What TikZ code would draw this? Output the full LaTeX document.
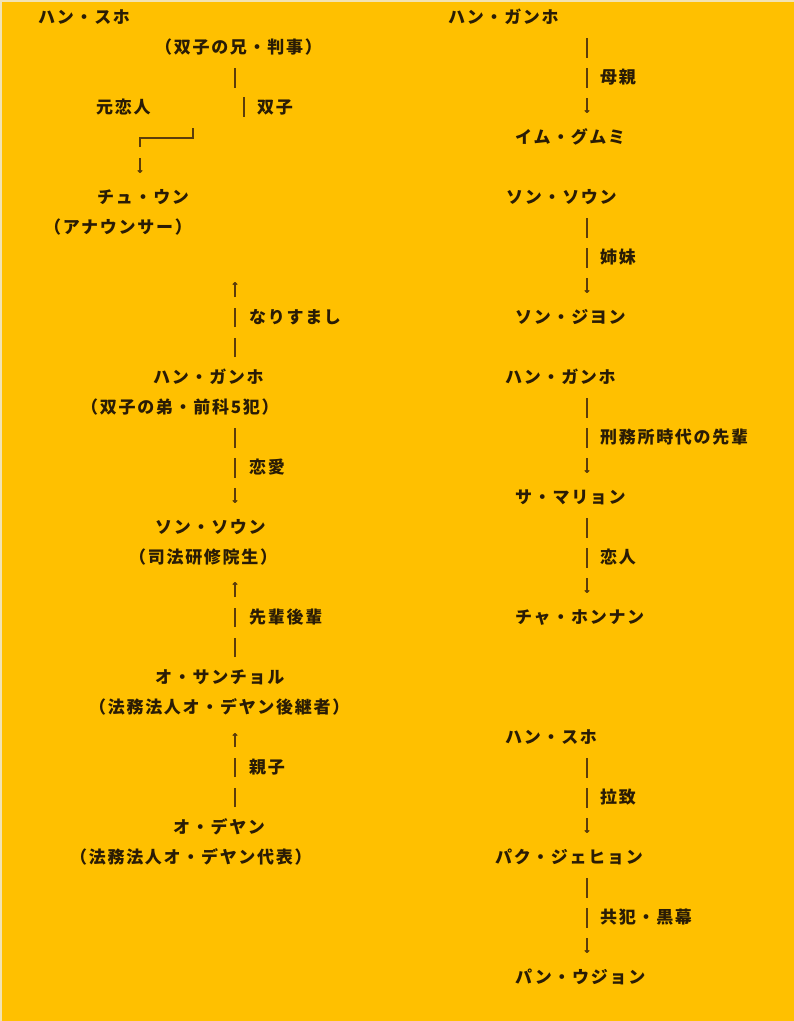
\documentclass[tikz,border=0pt]{standalone}
\usepackage{fontspec}
\setmainfont{Noto Sans CJK JP}[LetterSpace=10]
\usepackage{xcolor}
\usepackage{tikz}
\usetikzlibrary{arrows.meta}
\usetikzlibrary{calc}
\definecolor{bg}{HTML}{FFC000}
\definecolor{edge}{HTML}{F2E3B3}
\definecolor{ink}{HTML}{2A1C05}
\definecolor{stem}{HTML}{5C3D0A}

\begin{document}
\begin{tikzpicture}[x=1pt,y=-1pt,
  txt/.style={anchor=west,inner sep=0pt,text height=14pt,text depth=1pt,text=ink,font=\bfseries\fontsize{17}{17}\selectfont},
  plain/.style={draw=stem,line width=1.3pt},
  bar/.style={plain,dash pattern=on 19.5pt off 10.5pt},
  down/.style={bar,-{To[length=3pt,width=5pt]},shorten <=21pt,shorten >=24pt},
  up/.style={bar,-{To[length=3pt,width=5pt]},shorten <=20pt}]% y runs downwards, 1pt = 1px
% page
\fill[bg] (0,0) rectangle (794,1021);
\fill[edge] (0,0) rectangle (794,2);
\fill[edge] (0,0) rectangle (2,1021);
\useasboundingbox (0,0) rectangle (794,1021);
\coordinate (lb) at (235,0);
\coordinate (rb) at (587,0);

% left column
\node[txt] (hs) at (38,17) {ハン・スホ};
\node[txt] (hsr) at (155,47) {（双子の兄・判事）};
\node[txt] (ex) at (96,107) {元恋人};
\node[txt] (ltwin) at (257,107) {双子};
\node[txt] (ju) at (97,197) {チュ・ウン};
\node[txt] (jur) at (44,227) {（アナウンサー）};
\node[txt] (lpose) at (249,317) {なりすまし};
\node[txt] (hk) at (153,377) {ハン・ガンホ};
\node[txt] (hkr) at (81,407) {（双子の弟・前科5犯）};
\node[txt] (llove) at (249,467) {恋愛};
\node[txt] (ss) at (155,527) {ソン・ソウン};
\node[txt] (ssr) at (129,557) {（司法研修院生）};
\node[txt] (lsen) at (249,617) {先輩後輩};
\node[txt] (os) at (155,677) {オ・サンチョル};
\node[txt] (osr) at (89,707) {（法務法人オ・デヤン後継者）};
\node[txt] (lpar) at (249,767) {親子};
\node[txt] (od) at (173,827) {オ・デヤン};
\node[txt] (odr) at (70,857) {（法務法人オ・デヤン代表）};

% right column
\node[txt] (hk2) at (448,17) {ハン・ガンホ};
\node[txt] (rmom) at (600,77) {母親};
\node[txt] (ig) at (515,137) {イム・グムミ};
\node[txt] (ss2) at (506,197) {ソン・ソウン};
\node[txt] (rsis) at (600,257) {姉妹};
\node[txt] (sj) at (515,317) {ソン・ジヨン};
\node[txt] (hk3) at (505,377) {ハン・ガンホ};
\node[txt] (rjail) at (600,437) {刑務所時代の先輩};
\node[txt] (sm) at (515,497) {サ・マリョン};
\node[txt] (rlove) at (600,557) {恋人};
\node[txt] (ch) at (515,617) {チャ・ホンナン};
\node[txt] (hs2) at (505,737) {ハン・スホ};
\node[txt] (rkid) at (600,797) {拉致};
\node[txt] (pj) at (495,857) {パク・ジェヒョン};
\node[txt] (rboss) at (600,917) {共犯・黒幕};
\node[txt] (pu) at (515,977) {パン・ウジョン};

% twins -> ex lover, broken line
\coordinate (tw) at (244,97);
\coordinate (elb) at (140,138);
\draw[bar] ($(hsr -| lb)+(0,21)$) -- ++(0,19.5);
\draw[bar] (tw) -- ++(0,20);
\draw[plain] (193,128) |- (elb) -- ++(0,9);
\draw[down,shorten <=20pt] (elb) -- (ju -| elb);

% left links
\coordinate (imp) at (235,282);
\draw[up] (hk -| lb) -- (imp);
\draw[down] (hkr -| lb) -- (ss -| lb);
\draw[up,shorten >=25pt] (os -| lb) -- (ssr -| lb);
\draw[up,shorten >=26pt] (od -| lb) -- (osr -| lb);

% right links
\draw[down] (hk2 -| rb) -- (ig -| rb);
\draw[down] (ss2 -| rb) -- (sj -| rb);
\draw[down] (hk3 -| rb) -- (sm -| rb);
\draw[down] (sm -| rb) -- (ch -| rb);
\draw[down] (hs2 -| rb) -- (pj -| rb);
\draw[down] (pj -| rb) -- (pu -| rb);
\end{tikzpicture}
\end{document}
